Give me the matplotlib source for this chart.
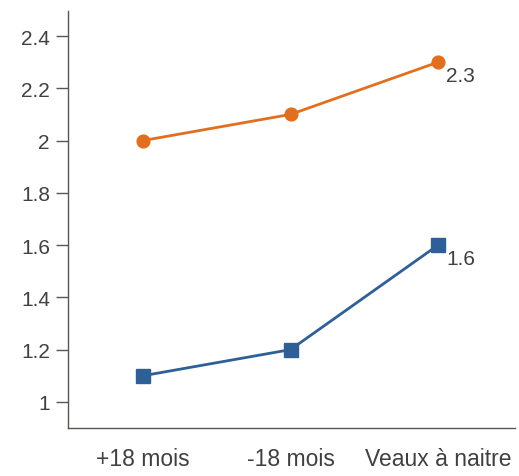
import matplotlib
matplotlib.use("Agg")
import matplotlib.pyplot as plt

categories = ["+18 mois", "-18 mois", "Veaux à naitre"]
orange_values = [2.0, 2.1, 2.3]
blue_values = [1.1, 1.2, 1.6]
yticks = [1.0, 1.2, 1.4, 1.6, 1.8, 2.0, 2.2, 2.4]
ytick_labels = ["1", "1.2", "1.4", "1.6", "1.8", "2", "2.2", "2.4"]

plt.rcParams['font.family'] = ['Liberation Sans', 'DejaVu Sans']
text_color = "#404040"
spine_color = "#5a5550"

fig = plt.figure(figsize=(5.19, 4.77), dpi=100)
ax = fig.add_axes([0.131, 0.1006, 0.861, 0.8744])
x = list(range(len(categories)))

ax.plot(x, orange_values, color="#e07020", lw=2.0, marker="o", markersize=9.2, zorder=3)
ax.plot(x, blue_values, color="#2f5f97", lw=2.0, marker="s", markersize=10, zorder=3)

ax.annotate(f"{orange_values[-1]:g}", (x[-1], orange_values[-1]), xytext=(6, -9.5),
            textcoords="offset points", ha="left", va="center", fontsize=15, color=text_color)
ax.annotate(f"{blue_values[-1]:g}", (x[-1], blue_values[-1]), xytext=(6, -9.5),
            textcoords="offset points", ha="left", va="center", fontsize=15, color=text_color)

ax.set_xlim(-0.508, 2.52)
ax.set_ylim(0.9, 2.496)
ax.set_xticks(x)
ax.set_xticklabels(categories)
ax.set_yticks(yticks)
ax.set_yticklabels(ytick_labels)
ax.tick_params(axis="x", length=0, pad=14, labelsize=16.5, colors=text_color)
ax.tick_params(axis="y", length=8.5, width=1, color=spine_color, pad=4.5, labelsize=15, labelcolor=text_color)
for s in ["top", "right"]:
    ax.spines[s].set_visible(False)
for s in ["left", "bottom"]:
    ax.spines[s].set_color(spine_color)
    ax.spines[s].set_linewidth(1)

fig.savefig("out.png", dpi=100)
